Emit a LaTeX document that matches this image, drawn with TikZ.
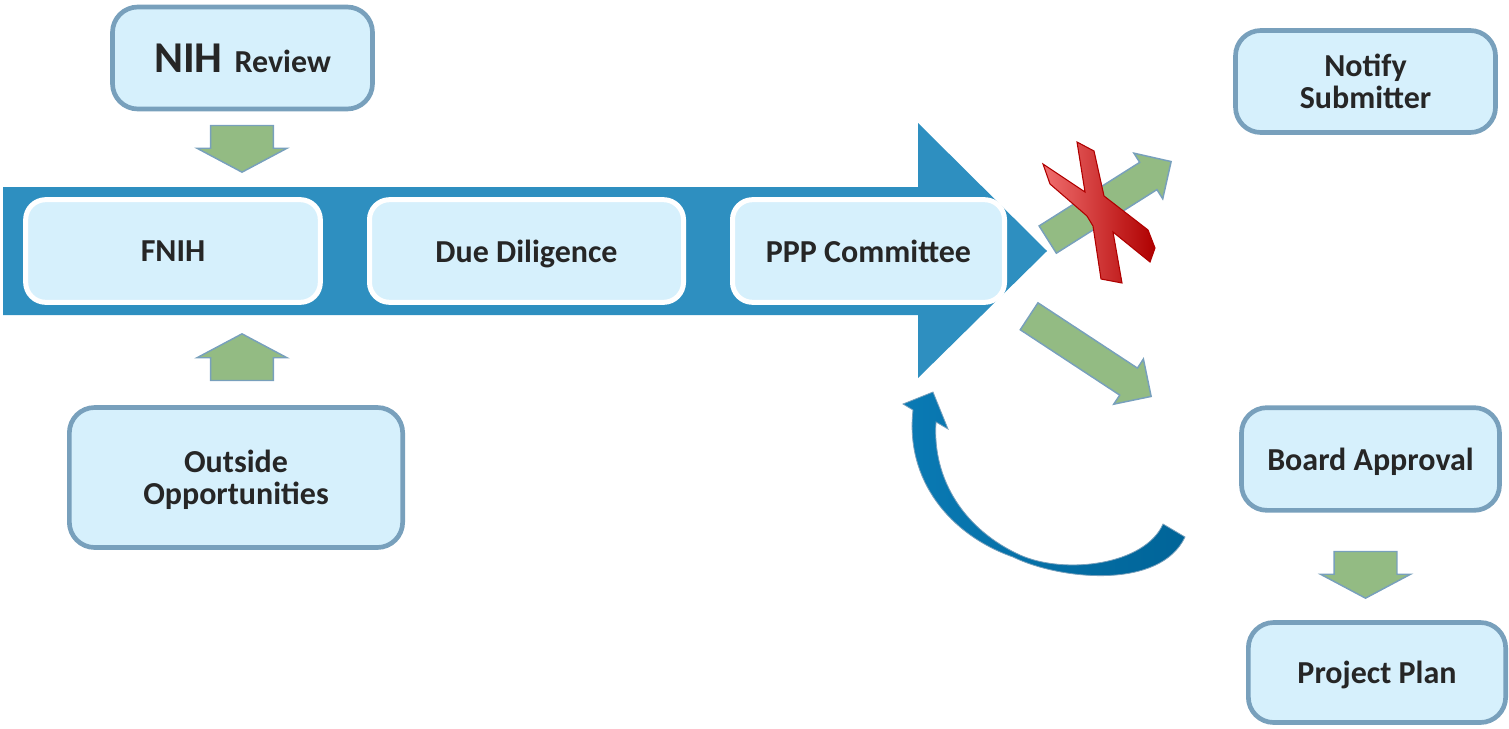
\documentclass[tikz,border=0pt]{standalone}
\usepackage{fontspec}
\setmainfont{Carlito}
\usetikzlibrary{shapes.arrows}

\definecolor{boxfill}{RGB}{214,240,252}
\definecolor{boxline}{RGB}{120,160,188}
\definecolor{flowblue}{RGB}{46,143,192}
\definecolor{stepgreen}{RGB}{147,187,131}
\definecolor{labeltext}{RGB}{38,38,38}
\definecolor{loopdark}{RGB}{0,100,152}
\definecolor{looplight}{RGB}{10,122,180}
\definecolor{crosslight}{RGB}{240,110,110}
\definecolor{crossmid}{RGB}{232,10,10}
\definecolor{crossdark}{RGB}{175,0,0}

\tikzset{every picture/.style={line width=0.75pt}}
\tikzset{
  outerbox/.style={rounded corners=19pt, draw=boxline, line width=3.5pt, fill=boxfill,
    align=center, text=labeltext, font=\fontsize{24}{24}\selectfont\bfseries, text depth=0pt,
    minimum width=195pt, minimum height=76.5pt, inner sep=0pt},
  innerbox/.style={rounded corners=15pt, draw=white, line width=3.75pt, fill=boxfill,
    align=center, text=labeltext, font=\fontsize{24}{24}\selectfont\bfseries, text depth=0pt,
    minimum height=77pt, inner sep=0pt},
  greenarrow/.style={single arrow, draw=boxline, line width=1.1pt, fill=stepgreen,
    inner xsep=0pt, single arrow head indent=0pt, anchor=tip},
  uparrow/.style={greenarrow, inner ysep=16pt, minimum width=67.5pt, minimum height=35pt,
    single arrow tip angle=124},
  slantarrow/.style={greenarrow, inner ysep=10pt, minimum width=40.5pt, minimum height=109.5pt,
    single arrow tip angle=90},
}

\begin{document}
\begin{tikzpicture}[x=0.75pt,y=0.75pt,yscale=-1,xscale=1]
\useasboundingbox (0,0) rectangle (1509,728);

%Shape: Right Arrow [id:flow]
\fill [flowblue] (3,187) -- (918,187) -- (918,123) -- (1047,251) -- (918,378) -- (918,315) -- (3,315) -- cycle;

% Text Node
\node [innerbox, minimum width=221pt] (fnih) at (173,251) {FNIH};
% Text Node
\node [innerbox, minimum width=235.5pt] (due) at (526.5,251) {Due Diligence};
% Text Node
\node [innerbox, minimum width=204pt] (ppp) at (868.5,251) {PPP Committee};

% Text Node
\node [outerbox] (nih) at (242.5,58) {{\fontsize{33}{33}\selectfont NIH}\hspace{9pt}{\fontsize{24}{24}\selectfont Review}};
% Text Node
\node [outerbox, minimum width=250pt, minimum height=105pt] (outside) at (236,477.5) {Outside\\Opportunities};
% Text Node
\node [outerbox] (notify) at (1365.5,81.5) {Notify\\Submitter};
% Text Node
\node [outerbox, minimum width=193.5pt, minimum height=77pt] (board) at (1370.5,459) {Board Approval};
% Text Node
\node [outerbox, minimum width=193pt, minimum height=75pt] (plan) at (1377,672.5) {Project Plan};

%Shape: Green Arrows
\node [uparrow, rotate=-90] (nihdown) at (242,173) {};
\node [uparrow, rotate=90] (outsideup) at (242,333) {};
\node [uparrow, rotate=-90] (plandown) at (1365.5,599) {};
\node [slantarrow, rotate=32.3] (tonotify) at (1172,161) {};
\node [slantarrow, rotate=-33.3] (toboard) at (1152,397) {};

%Shape: Cross
\shade [left color=crosslight, middle color=crossmid, right color=crossdark, draw=crossdark, line width=0.8pt]
  (1077,142) -- (1094,151) -- (1104,196) -- (1148,230) -- (1155,248) -- (1150,262) -- (1113,232)
  -- (1122,283) -- (1101,279) -- (1093,226) -- (1087,216) -- (1050,184) -- (1043,164) -- (1085,192) -- cycle;

%Shape: Curved Arrow [id:loop]
\shade [left color=looplight, right color=loopdark, draw=boxline, line width=0.6pt]
  (913,410) .. controls (905,480) and (950,535) .. (1013,557)
  .. controls (1060,580) and (1160,590) .. (1185,537)
  -- (1163,524)
  .. controls (1145,565) and (1065,575) .. (1020,555)
  .. controls (965,530) and (932,480) .. (936,422)
  -- (948,429) -- (933,392) -- (903,404) -- cycle;

\end{tikzpicture}
\end{document}
